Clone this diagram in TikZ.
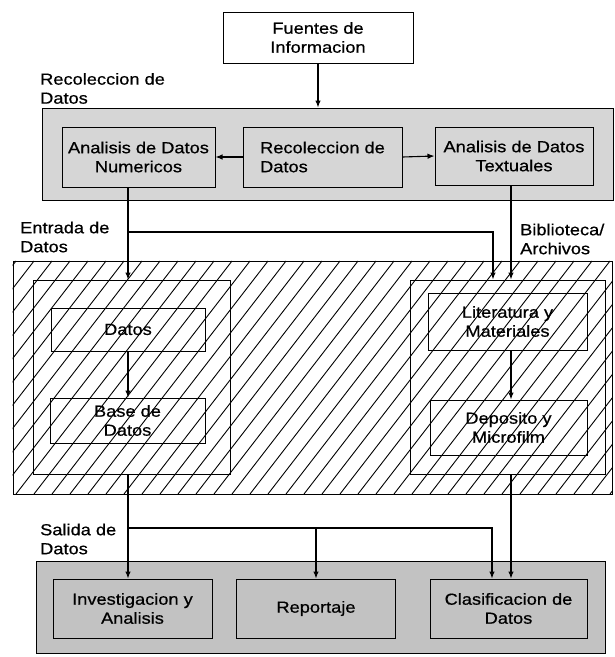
\documentclass[tikz,border=0pt]{standalone}
\usepackage{fontspec}
\setmainfont{Liberation Sans}[FakeStretch=1.14, FakeBold=0.6]
\usetikzlibrary{arrows.meta}

\tikzset{
  lbl/.style={font=\fontsize{16}{19}\selectfont, align=left, inner sep=0pt},
  box/.style={draw, line width=1pt, align=center, inner sep=2pt,
    font=\fontsize{16}{19}\selectfont},
  topgray/.style={box, fill=black!16},
  lowgray/.style={box, fill=black!24},
  frame/.style={draw, line width=1pt},
  hatch/.style={line width=0.9pt},
  arr/.style={line width=1.1pt, -{Latex[length=7pt,width=5.5pt]}},
}

\begin{document}
\begin{tikzpicture}[x=1pt, y=-1pt]
    \useasboundingbox (0,0) rectangle (615,657);

    % Source
    \node[box, minimum width=190pt, minimum height=51pt] (fuentes) at (318,37.5) {Fuentes de\\Informacion};

    % Recoleccion de Datos
    \node[lbl, anchor=south west] (lblrecol) at (40,104) {Recoleccion de\\Datos};
    \node[topgray, minimum width=571pt, minimum height=92pt] (recol) at (327.5,154) {};
    \node[topgray, minimum width=153pt, minimum height=60pt] (numer) at (138.5,157) {Analisis de Datos\\Numericos};
    \node[topgray, minimum width=159pt, minimum height=60pt, align=left] (datrec) at (322.5,157) {Recoleccion de\\Datos};
    \node[topgray, minimum width=158pt, minimum height=58pt] (textu) at (514,156) {Analisis de Datos\\Textuales};

    % Almacenamiento (hatched)
    \node[frame, minimum width=599pt, minimum height=233pt] (almacen) at (312.5,377.5) {};
    \begin{scope}
        \clip (almacen.south west) rectangle (almacen.north east);
        \foreach \x in {-200,-182,...,630}
            \draw[hatch] (\x,494) -- ++(180,-233);
    \end{scope}
    \node[frame, minimum width=599pt, minimum height=233pt] at (almacen) {};

    \node[lbl, anchor=west] (lblentrada) at (20,237) {Entrada de\\Datos};
    \node[lbl, anchor=west] (lblbiblio) at (520,239) {Biblioteca/\\Archivos};

    \node[frame, minimum width=197pt, minimum height=194pt] (frameL) at (131.5,377) {};
    \node[frame, minimum width=195pt, minimum height=194pt] (frameR) at (507.5,377) {};
    \node[box, minimum width=154pt, minimum height=43pt] (datos) at (128,329.5) {Datos};
    \node[box, minimum width=155pt, minimum height=45pt] (base) at (127.5,420.5) {Base de\\Datos};
    \node[box, minimum width=159pt, minimum height=57pt] (litera) at (507.5,321.5) {Literatura y\\Materiales};
    \node[box, minimum width=157pt, minimum height=55pt] (deposito) at (508.5,427.5) {Deposito y\\Microfilm};

    % Salida de Datos
    \node[lbl, anchor=west] (lblsalida) at (40,539) {Salida de\\Datos};
    \node[lowgray, minimum width=569pt, minimum height=92pt] (salida) at (320.5,607) {};
    \node[lowgray, minimum width=159pt, minimum height=59pt] (invest) at (132.5,608.5) {Investigacion y\\Analisis};
    \node[lowgray, minimum width=159pt, minimum height=59pt] (reporte) at (316,608.5) {Reportaje};
    \node[lowgray, minimum width=157pt, minimum height=59pt] (clasif) at (508.5,608.5) {Clasificacion de\\Datos};

    % columns and branch points
    \coordinate (colL) at (128,0);
    \coordinate (colR) at (511,0);
    \coordinate (entrada) at (128,232);
    \coordinate (entR) at (493,232);
    \coordinate (salL) at (128,528);
    \coordinate (salR) at (492,528);

    % connectors
    \draw[arr] (fuentes.south) -- (recol.north -| fuentes);
    \draw[arr] (datrec.west) -- (numer.east);
    \draw[arr] (datrec.east) -- (textu.west);

    \draw[arr] (numer.south -| colL) -- (frameL.north -| colL);
    \draw[arr] (entrada) -- (entR) -- (entR |- frameR.north);
    \draw[arr] (textu.south -| colR) -- (frameR.north -| colR);

    \draw[arr] (datos.south -| colL) -- (base.north -| colL);
    \draw[arr] (litera.south -| colR) -- (deposito.north -| colR);

    \draw[arr] (frameL.south -| colL) -- (invest.north -| colL);
    \draw[arr] (salL) -- (salR) -- (salR |- clasif.north);
    \draw[arr] (salL -| reporte) -- (reporte.north);
    \draw[arr] (frameR.south -| colR) -- (clasif.north -| colR);
\end{tikzpicture}
\end{document}
